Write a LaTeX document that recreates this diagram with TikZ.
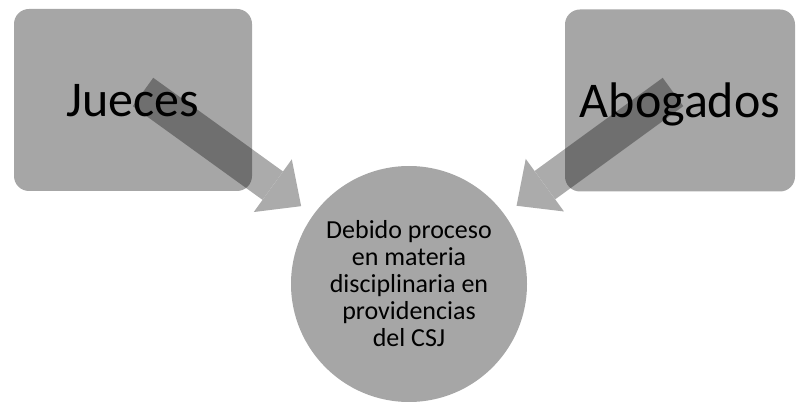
\documentclass[tikz,border=0pt]{standalone}
\usepackage{fontspec}
\setmainfont{Carlito}
\usetikzlibrary{arrows.meta}
\definecolor{boxgray}{RGB}{166,166,166}

\begin{document}
\begin{tikzpicture}[x=1pt,y=-1pt,
        actor/.style={fill=boxgray, rounded corners=15pt, minimum height=182pt,
            inner sep=0pt, outer sep=0pt, text depth=0pt,
            font=\fontsize{50}{60}\selectfont},
        topic/.style={circle, fill=boxgray, minimum size=236pt, inner sep=0pt,
            outer sep=0pt, align=center, font=\fontsize{26}{27}\selectfont},
        bigarrow/.style={line width=35pt, shorten >=15pt,
            -{Triangle[length=35pt, width=65pt, line width=0pt]}}]
                \useasboundingbox (0,0) rectangle (796,403);

                \node[actor, minimum width=238pt] (jueces) at (133,100) {Jueces};
                \node[actor, minimum width=230pt] (abogados) at (680,100.5) {Abogados};
                \node[topic] (csj) at (409,284)
                    {Debido proceso\\en materia\\disciplinaria en\\providencias\\del CSJ};

                \coordinate (jstart) at (143,92);
                \coordinate (astart) at (673,92);

                \begin{scope}[transparency group, opacity=0.33]
                    \draw[bigarrow] (jstart) -- (csj);
                    \draw[bigarrow] (astart) -- (csj);
                \end{scope}
            \end{tikzpicture}
\end{document}
